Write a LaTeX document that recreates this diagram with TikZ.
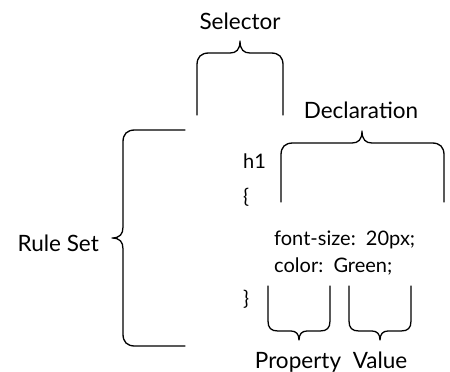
\documentclass[tikz,border=0pt]{standalone}
\usepackage{fontspec}
\setmainfont{Lato}
\usepackage{tikz}

\begin{document}
\begin{tikzpicture}[
    x=1pt, y=-1pt,
    bracket/.style={line width=1.3pt, line join=round, line cap=round},
    label/.style={font=\fontsize{22.5}{26}\selectfont, anchor=base, inner sep=0pt},
    code/.style={font=\fontsize{20}{24}\selectfont, anchor=base west, inner sep=0pt}
]
    \useasboundingbox (0,0) rectangle (450,372);

    % labels
    \node[label] (selector) at (240,29) {Selector};
    \node[label] (declaration) at (361,118) {Declaration};
    \node[label, anchor=base east] (ruleset) at (99,251) {Rule Set};
    \node[label] (property) at (298,368) {Property};
    \node[label] (value) at (380,368) {Value};

    % the rule itself
    \node[code] (tag) at (243,168) {h1};
    \node[code] (open) at (243,203) {\{};
    \node[code] (fontsize) at (274,245) {font-size:\ \ 20px;};
    \node[code] (color) at (274,272) {color:\ \ Green;};
    \node[code] (close) at (243,305) {\}};

    % selector brace
    \draw[bracket] (197,115) -- (197,65) .. controls (197,57) and (201,53) .. (209,53)
        -- (230,53) .. controls (236,53) and (240,50) .. (240,41)
        .. controls (240,50) and (244,53) .. (250,53) -- (271,53)
        .. controls (279,53) and (283,57) .. (283,65) -- (283,115);

    % declaration brace
    \draw[bracket] (281,202) -- (281,155) .. controls (281,147) and (285,143) .. (293,143)
        -- (352,143) .. controls (358,143) and (362,140) .. (362,131)
        .. controls (362,140) and (366,143) .. (372,143) -- (432,143)
        .. controls (440,143) and (444,147) .. (444,155) -- (444,202);

    % rule set brace
    \draw[bracket] (185,130) -- (135,130) .. controls (127,130) and (123,134) .. (123,142)
        -- (123,227) .. controls (123,234) and (120,238) .. (112,238)
        .. controls (120,238) and (123,242) .. (123,249) -- (123,334)
        .. controls (123,342) and (127,346) .. (135,346) -- (185,346);

    % property brace
    \draw[bracket] (268,286) -- (268,321) .. controls (268,328) and (271,331) .. (278,331)
        -- (291,331) .. controls (296,331) and (299,334) .. (299,340)
        .. controls (299,334) and (302,331) .. (307,331) -- (320,331)
        .. controls (327,331) and (330,328) .. (330,321) -- (330,286);

    % value brace
    \draw[bracket] (349,286) -- (349,321) .. controls (349,328) and (352,331) .. (359,331)
        -- (372,331) .. controls (377,331) and (380,334) .. (380,340)
        .. controls (380,334) and (383,331) .. (388,331) -- (401,331)
        .. controls (408,331) and (411,328) .. (411,321) -- (411,286);
\end{tikzpicture}
\end{document}
